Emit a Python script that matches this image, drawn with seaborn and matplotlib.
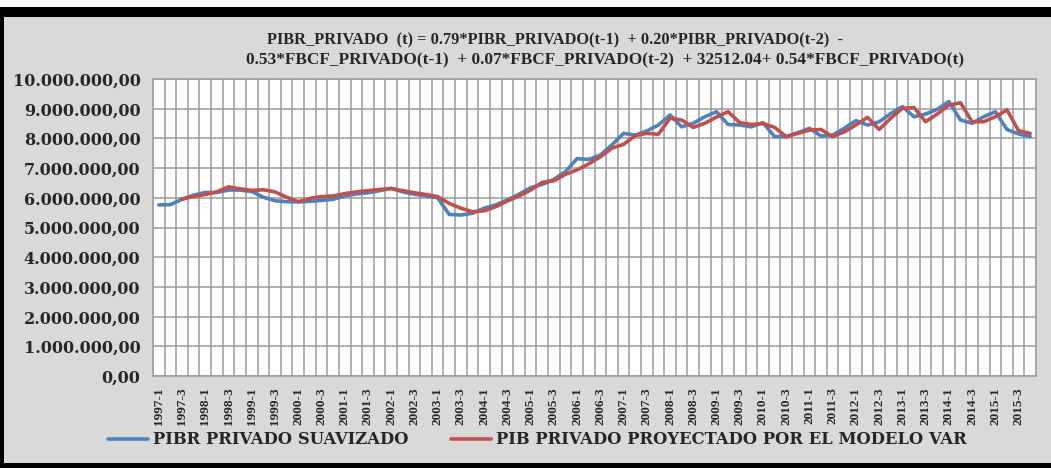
import matplotlib
matplotlib.use("Agg")
import matplotlib.pyplot as plt
from matplotlib.patches import Rectangle
from matplotlib.ticker import FuncFormatter, MultipleLocator
import seaborn as sns
import pandas as pd
import numpy as np

# quarterly labels 1997-1 ... 2015-4
years = list(range(1997, 2016))
quarters = [f"{y}-{q}" for y in years for q in range(1, 5)]

# PIBR privado suavizado (millions)
pibr_suavizado = [
    5.76, 5.77, 5.95, 6.09, 6.18, 6.18, 6.26, 6.26, 6.21, 6.02,
    5.90, 5.87, 5.86, 5.88, 5.91, 5.95, 6.06, 6.13, 6.17, 6.24,
    6.32, 6.20, 6.12, 6.06, 6.00, 5.44, 5.42, 5.48, 5.65, 5.76,
    5.93, 6.12, 6.34, 6.45, 6.62, 6.88, 7.32, 7.29, 7.44, 7.78,
    8.17, 8.11, 8.25, 8.45, 8.79, 8.39, 8.51, 8.73, 8.90, 8.47,
    8.45, 8.39, 8.53, 8.06, 8.06, 8.19, 8.34, 8.08, 8.11, 8.34,
    8.60, 8.45, 8.56, 8.84, 9.07, 8.73, 8.82, 8.98, 9.24, 8.62,
    8.51, 8.73, 8.90, 8.30, 8.15, 8.06,
]

# PIB privado proyectado por el modelo VAR (millions), starts at t=3
pib_proyectado = [
    np.nan, np.nan, 5.95, 6.05, 6.11, 6.20, 6.37, 6.30, 6.25, 6.27,
    6.20, 6.02, 5.87, 5.98, 6.04, 6.06, 6.14, 6.20, 6.24, 6.28,
    6.31, 6.24, 6.17, 6.11, 6.04, 5.81, 5.65, 5.53, 5.56, 5.70,
    5.89, 6.06, 6.26, 6.52, 6.57, 6.79, 6.94, 7.14, 7.38, 7.67,
    7.80, 8.09, 8.17, 8.14, 8.68, 8.62, 8.37, 8.51, 8.72, 8.90,
    8.53, 8.47, 8.50, 8.37, 8.06, 8.17, 8.28, 8.30, 8.06, 8.22,
    8.45, 8.71, 8.30, 8.68, 9.01, 9.04, 8.56, 8.82, 9.12, 9.20,
    8.56, 8.56, 8.73, 8.96, 8.26, 8.17,
]

label_blue = "PIBR PRIVADO SUAVIZADO"
label_red = "PIB PRIVADO PROYECTADO POR EL MODELO VAR"
title_1 = "PIBR_PRIVADO  (t) = 0.79*PIBR_PRIVADO(t-1)  + 0.20*PIBR_PRIVADO(t-2)  -"
title_2 = "0.53*FBCF_PRIVADO(t-1)  + 0.07*FBCF_PRIVADO(t-2)  + 32512.04+ 0.54*FBCF_PRIVADO(t)"

df = pd.DataFrame({
    "idx": np.arange(len(quarters)),
    "blue": np.array(pibr_suavizado) * 1e6,
    "red": np.array(pib_proyectado) * 1e6,
})

sns.set_style("white")

W, H = 1051, 468
fig = plt.figure(figsize=(W / 100, H / 100), dpi=100, facecolor="white")

# frame: black border and grey chart area
fig.patches.append(Rectangle((0, 0), 1, 461 / H, transform=fig.transFigure,
                             facecolor="black", edgecolor="none", zorder=-3))
fig.patches.append(Rectangle((4 / W, 5 / H), 1, (451 - 5) / H, transform=fig.transFigure,
                             facecolor="#d9d9d9", edgecolor="none", zorder=-2))

ax = fig.add_axes([153 / W, (H - 376) / H, (1036 - 153) / W, (376 - 79) / H])
ax.set_facecolor("white")

sns.lineplot(data=df, x="idx", y="blue", ax=ax, color="#4f81bd", linewidth=2.6,
             label=label_blue)
sns.lineplot(data=df, x="idx", y="red", ax=ax, color="#c0504d", linewidth=2.6,
             label=label_red)

ax.set_xlim(-0.5, len(quarters) - 0.5)
ax.set_ylim(0, 10e6)
ax.yaxis.set_major_locator(MultipleLocator(1e6))


def fmt_es(v, pos):
    s = f"{v:,.2f}"
    return s.replace(",", "X").replace(".", ",").replace("X", ".")


ax.yaxis.set_major_formatter(FuncFormatter(fmt_es))
ax.set_xticks(np.arange(0, len(quarters), 2))
ax.set_xticklabels(quarters[::2], rotation=90)
ax.set_xticks(np.arange(-0.5, len(quarters), 1), minor=True)

ax.grid(False)
ax.grid(axis="y", which="major", color="#9b9b9b", linewidth=1.1)
ax.grid(axis="x", which="minor", color="#9b9b9b", linewidth=1.1)
ax.set_axisbelow(True)
for sp in ax.spines.values():
    sp.set_color("#9b9b9b")
    sp.set_linewidth(1.1)

ax.tick_params(axis="both", which="both", length=0)
ax.tick_params(axis="y", pad=9)
ax.tick_params(axis="x", pad=8)
for t in ax.get_yticklabels():
    t.set_fontfamily("DejaVu Serif")
    t.set_fontweight("bold")
    t.set_fontsize(11.5)
for t in ax.get_xticklabels():
    t.set_fontfamily("Liberation Serif")
    t.set_fontweight("bold")
    t.set_fontsize(9.5)
ax.set_xlabel("")
ax.set_ylabel("")

fig.text(555 / W, 1 - 40 / H, title_1, ha="center", va="center",
         fontfamily="Liberation Serif", fontweight="bold", fontsize=11.8)
fig.text(605 / W, 1 - 60 / H, title_2, ha="center", va="center",
         fontfamily="Liberation Serif", fontweight="bold", fontsize=12.4)

leg = ax.legend(loc="center", bbox_to_anchor=(537 / W, 1 - 440 / H),
                bbox_transform=fig.transFigure, ncol=2, frameon=False,
                handlelength=2.45, handletextpad=0.3, columnspacing=2.6,
                prop={"family": "DejaVu Serif", "weight": "bold", "size": 11.8})

fig.savefig("out.png", dpi=100, facecolor=fig.get_facecolor())
